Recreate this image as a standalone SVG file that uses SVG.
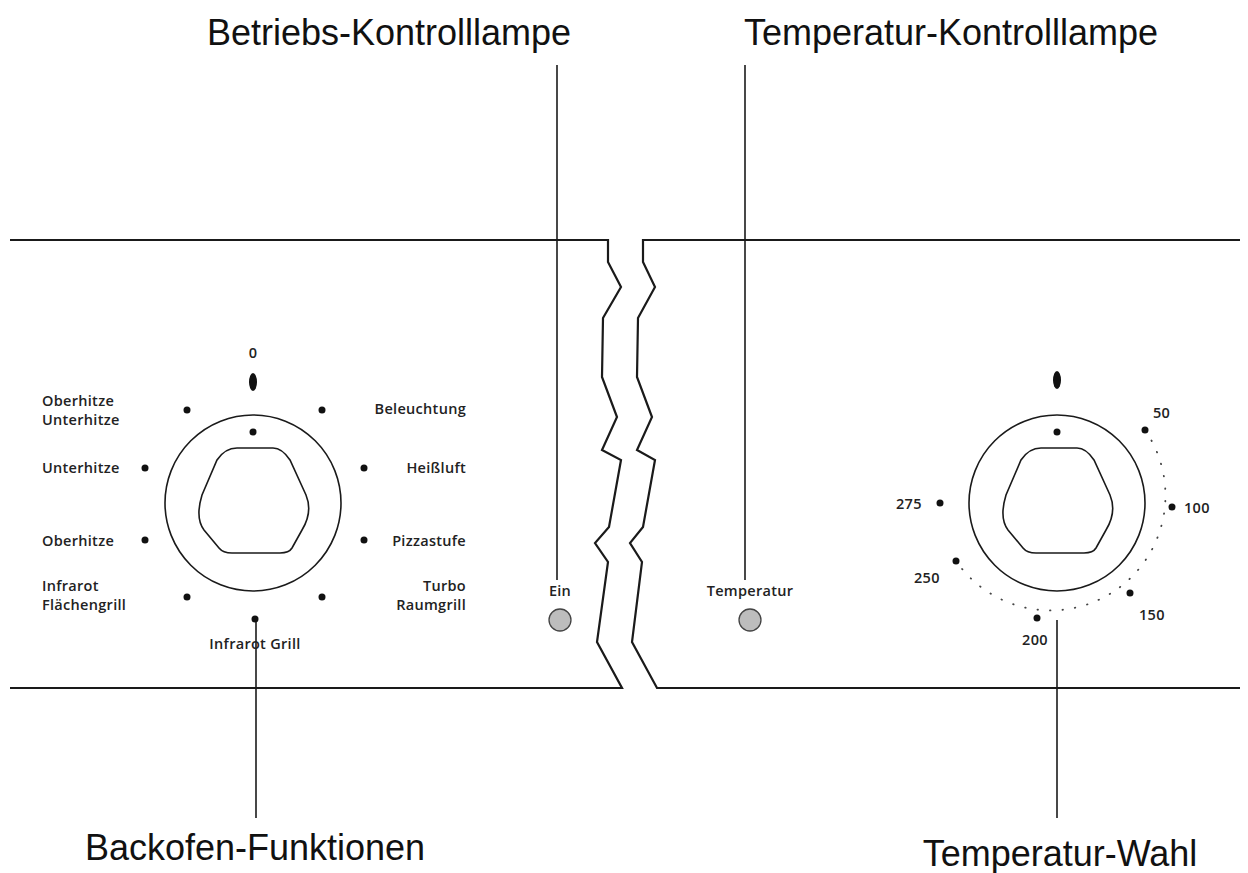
<svg xmlns="http://www.w3.org/2000/svg" width="1248" height="873" viewBox="0 0 1248 873">
<style>
.ln{fill:none;stroke:#1a1a1a;stroke-width:2.2;stroke-linejoin:miter}
.th{fill:none;stroke:#1a1a1a;stroke-width:1.6}
.dot{fill:#111}
.big{font-family:"Liberation Sans",Arial,sans-serif;font-size:36px;fill:#111}
.sm{font-family:"Open Sans","Liberation Sans",sans-serif;font-size:14.5px;font-weight:600;fill:#222;letter-spacing:0.3px}
.lamp{fill:#bdbdbd;stroke:#444;stroke-width:1.3}
</style>
<rect width="1248" height="873" fill="#fff"/>
<g id="panel">
<path class="ln" d="M10 240H608V262L621 287L603 318L602 377L617 417L602 450L621 460L609 527L595 543L608 562L597 642L622 688H10"/>
<path class="ln" d="M1240 240H643V262L655 287L638 318L637 377L652 417L637 450L655 460L643 527L630 543L642 562L632 642L657 688H1240"/>
</g>
<g id="connectors">
<line class="th" x1="557" y1="65" x2="557" y2="580"/>
<line class="th" x1="745" y1="65" x2="745" y2="580"/>
<line class="th" x1="256" y1="619" x2="256" y2="818"/>
<line class="th" x1="1057" y1="620" x2="1057" y2="818"/>
</g>
<g id="knob-left">
<circle class="th" cx="253" cy="503" r="88"/>
<path class="th" d="M237 448H273Q282 448 290 460L306 495Q313 512 302 530L292 548Q289 553 280 553H232Q223 553 219 548L204 530Q195 518 202 495L217 460Q225 448 237 448Z"/>
<ellipse class="dot" cx="253" cy="382" rx="4" ry="9"/>
<g class="dot">
<circle cx="253" cy="432" r="3.5"/><circle cx="187" cy="410" r="3.5"/><circle cx="322" cy="410" r="3.5"/>
<circle cx="145" cy="468" r="3.5"/><circle cx="364" cy="468" r="3.5"/><circle cx="145" cy="540" r="3.5"/>
<circle cx="364" cy="540" r="3.5"/><circle cx="187" cy="597" r="3.5"/><circle cx="322" cy="597" r="3.5"/>
<circle cx="255" cy="619" r="3.5"/>
</g>
<text class="sm" x="253" y="358" text-anchor="middle">0</text>
<text class="sm" x="42" y="406">Oberhitze</text>
<text class="sm" x="42" y="425">Unterhitze</text>
<text class="sm" x="42" y="473">Unterhitze</text>
<text class="sm" x="42" y="546">Oberhitze</text>
<text class="sm" x="42" y="591">Infrarot</text>
<text class="sm" x="42" y="610">Flächengrill</text>
<text class="sm" x="466" y="414" text-anchor="end">Beleuchtung</text>
<text class="sm" x="466" y="473" text-anchor="end">Heißluft</text>
<text class="sm" x="466" y="546" text-anchor="end">Pizzastufe</text>
<text class="sm" x="466" y="591" text-anchor="end">Turbo</text>
<text class="sm" x="466" y="610" text-anchor="end">Raumgrill</text>
<text class="sm" x="255" y="649" text-anchor="middle">Infrarot Grill</text>
</g>
<g id="lamps">
<text class="sm" x="560" y="596" text-anchor="middle">Ein</text>
<circle class="lamp" cx="560" cy="620" r="11"/>
<text class="sm" x="750" y="596" text-anchor="middle">Temperatur</text>
<circle class="lamp" cx="750" cy="620" r="11"/>
</g>
<g id="knob-right">
<circle class="th" cx="1057" cy="503" r="88"/>
<path class="th" transform="translate(804 0)" d="M237 448H273Q282 448 290 460L306 495Q313 512 302 530L292 548Q289 553 280 553H232Q223 553 219 548L204 530Q195 518 202 495L217 460Q225 448 237 448Z"/>
<ellipse class="dot" cx="1057" cy="380" rx="4" ry="9"/>
<path d="M1145 430A114 114 0 0 1 956 561" fill="none" stroke="#444" stroke-width="1.8" stroke-dasharray="0.5 12" stroke-linecap="round"/>
<g class="dot">
<circle cx="1057" cy="432" r="3.5"/><circle cx="1145" cy="430" r="3.5"/><circle cx="1172" cy="507" r="3.5"/>
<circle cx="1130" cy="593" r="3.5"/><circle cx="1037" cy="618" r="3.5"/><circle cx="956" cy="561" r="3.5"/>
<circle cx="940" cy="503" r="3.5"/>
</g>
<text class="sm" x="1153" y="418">50</text>
<text class="sm" x="1184" y="513">100</text>
<text class="sm" x="1139" y="620">150</text>
<text class="sm" x="1035" y="645" text-anchor="middle">200</text>
<text class="sm" x="914" y="583">250</text>
<text class="sm" x="896" y="509">275</text>
</g>
<g id="labels">
<text class="big" x="389" y="45" text-anchor="middle">Betriebs-Kontrolllampe</text>
<text class="big" x="951" y="45" text-anchor="middle">Temperatur-Kontrolllampe</text>
<text class="big" x="255" y="860" text-anchor="middle">Backofen-Funktionen</text>
<text class="big" x="1060" y="866" text-anchor="middle">Temperatur-Wahl</text>
</g>
</svg>
